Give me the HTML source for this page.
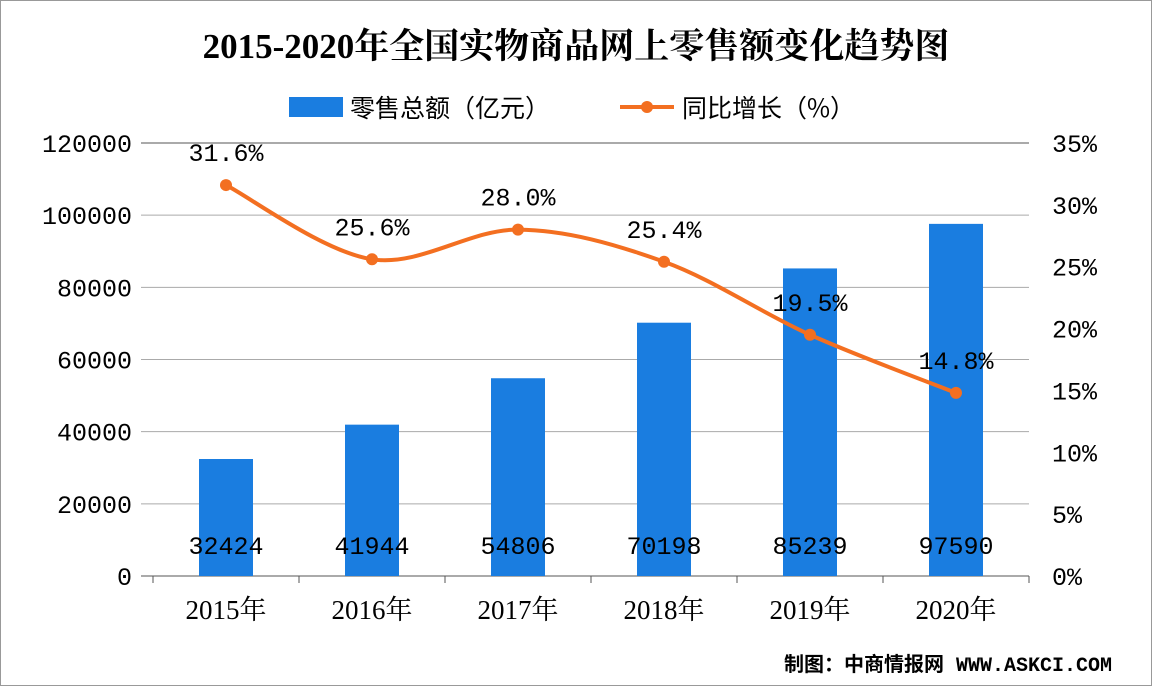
<!DOCTYPE html>
<html><head><meta charset="utf-8"><style>
html,body{margin:0;padding:0;background:#fff}
svg text{font-family:"Liberation Mono","Noto Sans CJK SC",monospace}
</style></head><body>
<svg id="c" width="1152" height="686" xmlns="http://www.w3.org/2000/svg">
<rect x="0.5" y="0.5" width="1151" height="685" fill="#fff" stroke="#999"/>
<text x="576" y="58" text-anchor="middle" font-size="35" font-weight="bold" style="font-family:'Liberation Serif','Noto Serif CJK SC',serif">2015-2020年全国实物商品网上零售额变化趋势图</text>
<g>
<rect x="289" y="97" width="54" height="20" fill="#1a7de0"/>
<text x="350" y="117" font-size="25" style="font-family:'Noto Sans CJK SC',sans-serif">零售总额（亿元）</text>
<line x1="620" y1="107" x2="674" y2="107" stroke="#f36f21" stroke-width="4"/>
<circle cx="647" cy="107" r="6" fill="#f36f21"/>
<text x="682" y="117" font-size="25" style="font-family:'Noto Sans CJK SC',sans-serif">同比增长（%）</text>
</g>
<g id="plot"></g>
<text x="1112" y="671" text-anchor="end" font-size="20" font-weight="bold" style="font-family:'Liberation Mono','Noto Sans CJK SC',monospace">制图：中商情报网 WWW.ASKCI.COM</text>
</svg>
<script>
const categories=["2015年","2016年","2017年","2018年","2019年","2020年"];
const sales=[32424,41944,54806,70198,85239,97590];
const growth=[31.6,25.6,28.0,25.4,19.5,14.8];
const leftTicks=[0,20000,40000,60000,80000,100000,120000];
const rightTicks=[0,5,10,15,20,25,30,35];
const NS="http://www.w3.org/2000/svg";
const g=document.getElementById('plot');
const X0=153,X1=1029,Y0=576,Y1=143;
const band=(X1-X0)/categories.length;
const xc=i=>X0+band*(i+0.5);
const yl=v=>Y0-(v/120000)*(Y0-Y1);
const yr=v=>Y0-(v/35)*(Y0-Y1);
function el(t,a){const e=document.createElementNS(NS,t);for(const k in a)e.setAttribute(k,a[k]);g.appendChild(e);return e;}
leftTicks.forEach(v=>{
 const l=el('line',{x1:X0-12,x2:X1,y1:yl(v),y2:yl(v),stroke:v===0||v===120000?'#555':'#aaa','stroke-width':1});
 
 
 const t=el('text',{x:132,y:yl(v)+9,'text-anchor':'end','font-size':25});t.textContent=v;
 
 
});
rightTicks.forEach(v=>{
 const t=el('text',{x:1052,y:yr(v)+9,'font-size':25});t.textContent=v+'%';
 
 
});
for(let i=0;i<=categories.length;i++){const l=el('line',{x1:X0+band*i,x2:X0+band*i,y1:Y0,y2:Y0+7,stroke:'#555'});
 
 }
categories.forEach((c,i)=>{
 const b=el('rect',{x:xc(i)-27,y:yl(sales[i]),width:54,height:Y0-yl(sales[i]),fill:'#1a7de0'});
 
 
 const v=el('text',{x:xc(i),y:554,'text-anchor':'middle','font-size':25});v.textContent=sales[i];
 
 
 const t=el('text',{x:xc(i),y:619,'text-anchor':'middle','font-size':27,style:"font-family:'Liberation Serif','Noto Serif CJK SC',serif"});t.textContent=c;
 
 
});
const pts=growth.map((v,i)=>[xc(i),yr(v)]);
let d='M'+pts[0][0]+','+pts[0][1];
for(let i=0;i<pts.length-1;i++){
 const p0=pts[i-1]||pts[i],p1=pts[i],p2=pts[i+1],p3=pts[i+2]||p2,k=6;
 d+=` C${p1[0]+(p2[0]-p0[0])/k},${p1[1]+(p2[1]-p0[1])/k} ${p2[0]-(p3[0]-p1[0])/k},${p2[1]-(p3[1]-p1[1])/k} ${p2[0]},${p2[1]}`;
}
const path=el('path',{d:d,fill:'none',stroke:'#f36f21','stroke-width':4});


pts.forEach((p,i)=>{
 const c=el('circle',{cx:p[0],cy:p[1],r:6,fill:'#f36f21'});
 
 
 const t=el('text',{x:p[0],y:p[1]-24,'text-anchor':'middle','font-size':25});t.textContent=growth[i].toFixed(1)+'%';
 
 
});
</script>
</body></html>
